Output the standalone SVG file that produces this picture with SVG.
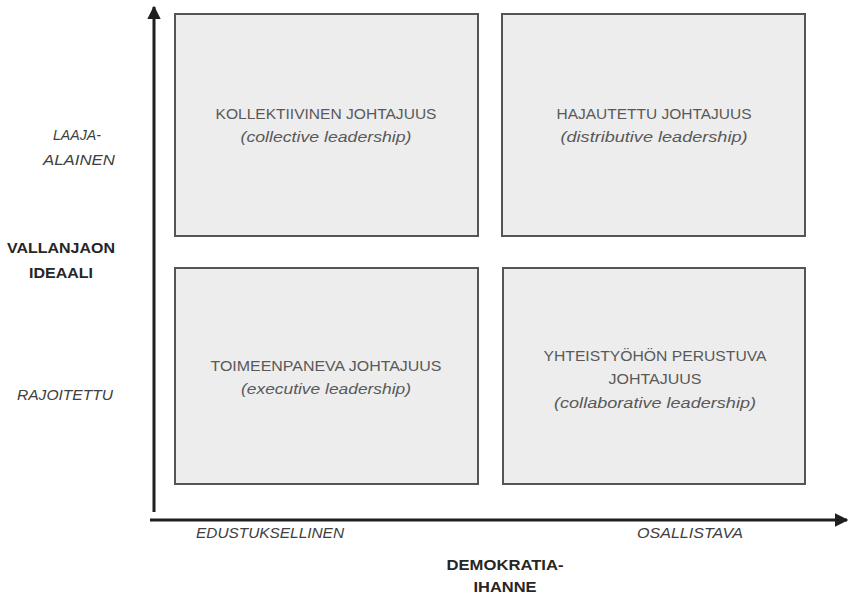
<svg xmlns="http://www.w3.org/2000/svg" width="848" height="597" viewBox="0 0 848 597">
<defs>
<marker id="ah" viewBox="0 0 10 10" refX="9" refY="5" markerWidth="4.5" markerHeight="4.5" orient="auto" markerUnits="strokeWidth">
<path d="M0,0 L10,5 L0,10 z" fill="#1f1f1f"/>
</marker>
<style>
.box{fill:#ededed;stroke:#555;stroke-width:2}
.t{font-family:"Liberation Sans",Arial,sans-serif;font-size:15px;fill:#595959;text-anchor:middle}
.i{font-style:italic;font-size:15.5px}
.lab{font-family:"Liberation Sans",Arial,sans-serif;font-size:14.5px;fill:#404040;font-style:italic;text-anchor:middle}
.b{font-family:"Liberation Sans",Arial,sans-serif;font-size:15px;fill:#262626;font-weight:bold;text-anchor:middle}
.ax{stroke:#1f1f1f;stroke-width:3;fill:none}
</style>
</defs>
<rect width="848" height="597" fill="#fff"/>
<g id="connectors">
<line class="ax" x1="154" y1="512" x2="154" y2="7" marker-end="url(#ah)"/>
<line class="ax" x1="150" y1="520" x2="847" y2="520" marker-end="url(#ah)"/>
</g>
<g id="collective">
<rect class="box" x="175" y="14" width="303" height="222"/>
<text class="t" x="326" y="119" textLength="221" lengthAdjust="spacingAndGlyphs">KOLLEKTIIVINEN JOHTAJUUS</text>
<text class="t i" x="326" y="142" textLength="171" lengthAdjust="spacingAndGlyphs">(collective leadership)</text>
</g>
<g id="distributive">
<rect class="box" x="502" y="14" width="303" height="222"/>
<text class="t" x="654" y="119" textLength="195" lengthAdjust="spacingAndGlyphs">HAJAUTETTU JOHTAJUUS</text>
<text class="t i" x="654" y="142" textLength="187" lengthAdjust="spacingAndGlyphs">(distributive leadership)</text>
</g>
<g id="executive">
<rect class="box" x="175" y="268" width="303" height="216"/>
<text class="t" x="326" y="371" textLength="231" lengthAdjust="spacingAndGlyphs">TOIMEENPANEVA JOHTAJUUS</text>
<text class="t i" x="326" y="394" textLength="170" lengthAdjust="spacingAndGlyphs">(executive leadership)</text>
</g>
<g id="collaborative">
<rect class="box" x="503" y="268" width="302" height="216"/>
<text class="t" x="655" y="361" textLength="223" lengthAdjust="spacingAndGlyphs">YHTEISTYÖHÖN PERUSTUVA</text>
<text class="t" x="655" y="384" textLength="93" lengthAdjust="spacingAndGlyphs">JOHTAJUUS</text>
<text class="t i" x="655" y="408" textLength="202" lengthAdjust="spacingAndGlyphs">(collaborative leadership)</text>
</g>
<g id="y-labels">
<text class="lab" x="77" y="140" textLength="48" lengthAdjust="spacingAndGlyphs">LAAJA-</text>
<text class="lab" x="79" y="165" textLength="72" lengthAdjust="spacingAndGlyphs">ALAINEN</text>
<text class="b" x="61" y="253" textLength="108" lengthAdjust="spacingAndGlyphs">VALLANJAON</text>
<text class="b" x="61" y="278" textLength="64" lengthAdjust="spacingAndGlyphs">IDEAALI</text>
<text class="lab" x="65" y="400" textLength="96" lengthAdjust="spacingAndGlyphs">RAJOITETTU</text>
</g>
<g id="x-labels">
<text class="lab" x="270" y="538" textLength="148" lengthAdjust="spacingAndGlyphs">EDUSTUKSELLINEN</text>
<text class="lab" x="690" y="538" textLength="106" lengthAdjust="spacingAndGlyphs">OSALLISTAVA</text>
<text class="b" x="505" y="570" textLength="117" lengthAdjust="spacingAndGlyphs">DEMOKRATIA-</text>
<text class="b" x="505" y="592" textLength="63" lengthAdjust="spacingAndGlyphs">IHANNE</text>
</g>
</svg>
